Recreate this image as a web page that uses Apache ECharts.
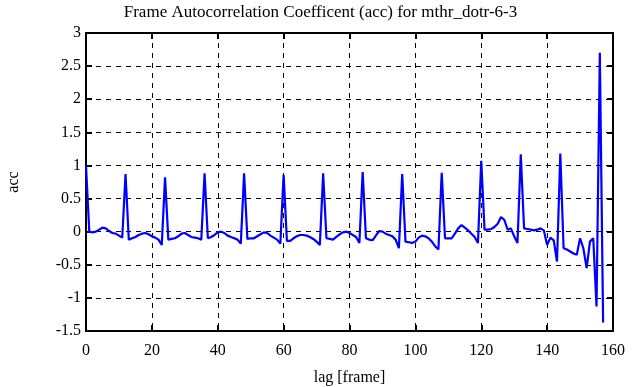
<!DOCTYPE html>
<html>
<head>
<meta charset="utf-8">
<script src="https://cdn.jsdelivr.net/npm/echarts@6/dist/echarts.min.js"></script>
<style>html,body{margin:0;padding:0;background:#fff}#c{width:641px;height:387px}</style>
</head>
<body>
<div id="c"></div>
<script>
var titleText = "Frame Autocorrelation Coefficent (acc) for mthr_dotr-6-3";
var xName = "lag [frame]";
var yName = "acc";
var xTicks = [0, 20, 40, 60, 80, 100, 120, 140, 160];
var yTicks = [-1.5, -1, -0.5, 0, 0.5, 1, 1.5, 2, 2.5, 3];
var accValues = [
  1.0, 0.0, -0.01, 0.0, 0.03, 0.06, 0.05, 0.01, -0.02, -0.03, -0.06, -0.09,
  0.87, -0.12, -0.1, -0.08, -0.05, -0.03, -0.02, -0.04, -0.07, -0.09, -0.12, -0.2,
  0.82, -0.12, -0.11, -0.1, -0.07, -0.03, -0.02, -0.05, -0.08, -0.09, -0.1, -0.12,
  0.88, -0.1, -0.08, -0.05, -0.01, 0.0, -0.02, -0.06, -0.08, -0.1, -0.12, -0.18,
  0.88, -0.11, -0.1, -0.1, -0.07, -0.04, -0.01, -0.02, -0.06, -0.09, -0.12, -0.18,
  0.86, -0.14, -0.14, -0.1, -0.07, -0.05, -0.05, -0.06, -0.08, -0.11, -0.15, -0.2,
  0.88, -0.1, -0.11, -0.12, -0.08, -0.04, -0.01, 0.0, -0.02, -0.05, -0.08, -0.17,
  0.9, -0.1, -0.12, -0.13, -0.06, 0.01, 0.0, -0.03, -0.05, -0.07, -0.12, -0.25,
  0.87, -0.15, -0.16, -0.17, -0.15, -0.09, -0.06, -0.07, -0.1, -0.15, -0.22, -0.27,
  0.89, -0.1, -0.1, -0.1, -0.03, 0.05, 0.1, 0.06, 0.02, -0.03, -0.08, -0.17,
  1.07, 0.03, 0.03, 0.04, 0.07, 0.12, 0.22, 0.18, 0.03, 0.05, -0.07, -0.17,
  1.17, 0.05, 0.04, 0.03, 0.02, 0.03, 0.05, 0.02, -0.2, -0.09, -0.13, -0.45,
  1.18, -0.25, -0.27, -0.3, -0.33, -0.35, -0.1, -0.25, -0.55, -0.15, -0.1, -1.13,
  2.7, -1.37
];
var lags = accValues.map(function (v, i) { return i; });
var seriesData = lags.map(function (l, i) { return [l, accValues[i]]; });

var font = "Liberation Serif";
var chart = echarts.init(document.getElementById('c'), null, {renderer: 'canvas'});
var tickStyle = {show: true, inside: true, length: 6, lineStyle: {color: '#000', width: 2}};
var dash = {color: '#000', type: [5, 5], width: 1};
chart.setOption({
  animation: false,
  backgroundColor: '#fff',
  title: {
    text: titleText, left: 'center', top: -1, padding: [5, 12, 5, 0],
    textStyle: {fontFamily: font, fontSize: 17, fontWeight: 'normal', color: '#000'}
  },
  grid: {left: 86, right: 28, top: 33, bottom: 56, show: false, containLabel: false, outerBoundsMode: 'none'},
  xAxis: [{
    type: 'value', min: xTicks[0], max: xTicks[xTicks.length - 1], interval: 20,
    name: xName, nameLocation: 'middle', nameGap: 39,
    nameTextStyle: {fontFamily: font, fontSize: 16, color: '#000'},
    axisLine: {show: true, onZero: false, lineStyle: {color: '#000', width: 2}},
    axisTick: tickStyle,
    axisLabel: {fontFamily: font, fontSize: 16, color: '#000', margin: 12},
    splitLine: {show: true, lineStyle: dash}
  }, {
    type: 'value', position: 'top', min: xTicks[0], max: xTicks[xTicks.length - 1], interval: 20,
    axisLine: {show: true, onZero: false, lineStyle: {color: '#000', width: 2}},
    axisTick: tickStyle, axisLabel: {show: false}, splitLine: {show: false}
  }],
  yAxis: [{
    type: 'value', min: yTicks[0], max: yTicks[yTicks.length - 1], interval: 0.5,
    name: yName, nameLocation: 'middle', nameGap: 64, nameRotate: 90,
    nameTextStyle: {fontFamily: font, fontSize: 16, color: '#000'},
    axisLine: {show: true, onZero: false, lineStyle: {color: '#000', width: 2}},
    axisTick: tickStyle,
    axisLabel: {fontFamily: font, fontSize: 16, color: '#000', margin: 5},
    splitLine: {show: true, lineStyle: dash}
  }, {
    type: 'value', position: 'right', min: yTicks[0], max: yTicks[yTicks.length - 1], interval: 0.5,
    axisLine: {show: true, onZero: false, lineStyle: {color: '#000', width: 2}},
    axisTick: tickStyle, axisLabel: {show: false}, splitLine: {show: false}
  }],
  series: [{
    type: 'line', data: seriesData, xAxisIndex: 0, yAxisIndex: 0,
    showSymbol: false, symbol: 'none',
    lineStyle: {color: '#0000ff', width: 2.2},
    z: 5
  }]
});
</script>
</body>
</html>
